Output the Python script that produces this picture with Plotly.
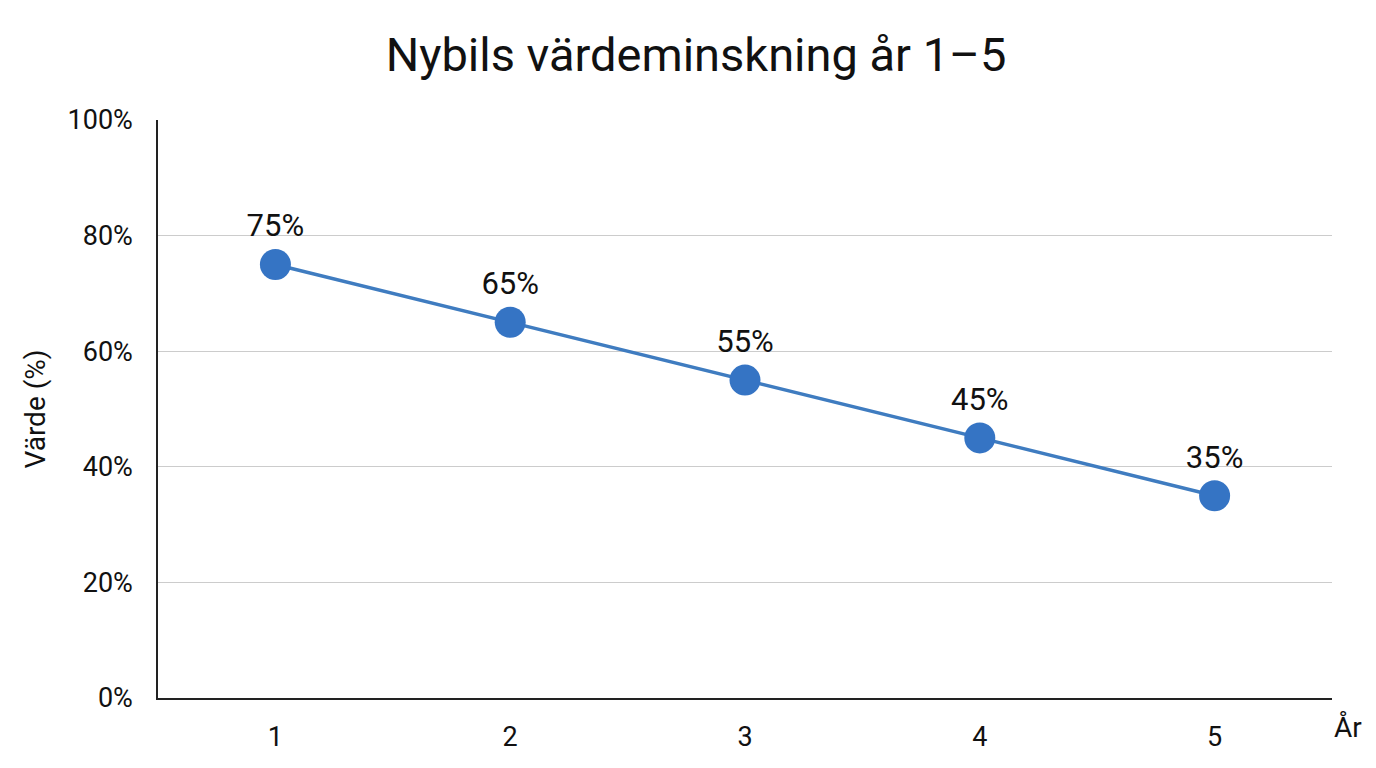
import plotly.graph_objects as go

years = [1, 2, 3, 4, 5]
values = [75, 65, 55, 45, 35]
labels = ["75%", "65%", "55%", "45%", "35%"]
y_ticks = [0, 20, 40, 60, 80, 100]
y_tick_text = ["0%", "20%", "40%", "60%", "80%", "100%"]

fig = go.Figure()
fig.add_trace(go.Scatter(
    x=years, y=values, mode="lines+markers+text",
    text=labels, textposition="top center",
    textfont=dict(size=31, color="#111"),
    line=dict(color="#3f7cc0", width=3.5),
    marker=dict(size=31, color="#3574c4"),
))

fig.update_layout(
    width=1376, height=768,
    margin=dict(l=150, r=52, t=112, b=78),
    paper_bgcolor="white", plot_bgcolor="white",
    font=dict(family="Roboto", color="#111"),
    title=dict(text="Nybils värdeminskning år 1–5", x=0.5, xanchor="center",
               y=0.94, yanchor="middle", font=dict(size=47)),
    showlegend=False,
)
fig.update_xaxes(range=[0.5, 5.5], tickvals=years, showgrid=False,
                 showline=True, linecolor="#222", linewidth=1.5,
                 ticks="", tickfont=dict(size=27), ticklabelstandoff=14)
fig.update_yaxes(range=[0, 100], tickvals=y_ticks, ticktext=y_tick_text,
                 showgrid=True, gridcolor="#cccccc", gridwidth=1,
                 showline=True, linecolor="#222", linewidth=1.5,
                 zeroline=False, ticks="", tickfont=dict(size=27),
                 ticklabelstandoff=18,
                 title=dict(text="Värde (%)", font=dict(size=28), standoff=14))
fig.add_annotation(text="År", x=1.0, xref="paper", xanchor="left", xshift=0,
                   y=-0.05, yref="paper", yanchor="middle",
                   showarrow=False, font=dict(size=28))

fig.write_html("out.html")
